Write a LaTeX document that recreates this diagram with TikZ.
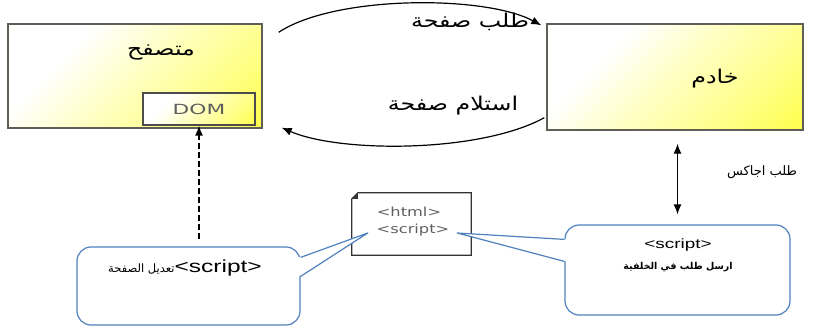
\documentclass[tikz,border=0pt]{standalone}
\usepackage{fontspec}
\setmainfont{Liberation Sans}
\newfontfamily\arabicfont[Script=Arabic]{DejaVu Sans}
\newfontfamily\arabicwide[Script=Arabic,FakeStretch=1.25]{DejaVu Sans}
\newfontfamily\latinwide[FakeStretch=1.3]{DejaVu Sans}
\newfontfamily\domfont[FakeStretch=1.55]{DejaVu Sans}
\newfontfamily\latinstretch[FakeStretch=1.4]{Liberation Sans}
\TeXXeTstate=1
\usetikzlibrary{arrows.meta,calc}
\definecolor{boxedge}{RGB}{95,95,85}
\definecolor{boxyellow}{RGB}{255,255,80}
\definecolor{callblue}{RGB}{79,129,189}
\definecolor{domgray}{RGB}{95,95,95}
\pgfdeclareverticalshading{panelshade}{100bp}{color(0bp)=(boxyellow); color(16bp)=(boxyellow);
  color(30bp)=(boxyellow!70!white); color(50bp)=(boxyellow!35!white); color(68bp)=(white); color(100bp)=(white)}
\tikzset{
  panel/.style={draw=boxedge, line width=1.4pt, inner sep=0pt,
    shading=panelshade, shading angle=45},
  artxt/.style={font=\arabicwide\fontsize{19}{22}\selectfont, inner sep=0pt},
  conn/.style={line width=1.2pt, -{Latex[length=10pt,width=8pt]}},
  callbox/.style={draw=callblue, line width=1.2pt, rounded corners=14pt, fill=white, inner sep=0pt},
  callptr/.style={draw=callblue, line width=1.2pt, line join=round},
}
\begin{document}
\begin{tikzpicture}[x=1pt,y=-1pt]
\useasboundingbox (0,0) rectangle (822,329);
% main boxes
\node[panel, minimum width=254pt, minimum height=104pt] (browser) at (135,76) {};
\node[panel, minimum width=256pt, minimum height=106pt] (server) at (675,77) {};
\node[artxt] (browserlbl) at (161,52) {\beginR متصفح\endR};
\node[artxt] (serverlbl) at (715,79) {\beginR خادم\endR};
\node[panel, line width=1.1pt, draw=black!70, minimum width=112pt, minimum height=32pt,
  font=\domfont\fontsize{14}{16}\selectfont, text=domgray] (dom) at (199,109) {DOM};
% request / response arcs
\coordinate (reqS) at ($(browser.north east)+(16,9)$);
\coordinate (reqE) at ($(server.north west)+(-5,2)$);
\draw[conn] (reqS) .. controls (335,-5) and (485,-5) .. (reqE);
\node[artxt] (reqlbl) at (470,22) {\beginR طلب صفحة\endR};
\coordinate (resS) at ($(server.south west)+(-2,-13)$);
\coordinate (resE) at ($(browser.south east)+(19,-1)$);
\draw[conn] (resS) .. controls (480,153) and (340,153) .. (resE);
\node[artxt] (reslbl) at (453,106) {\beginR استلام صفحة\endR};
% document
\node[minimum width=119pt, minimum height=62pt, inner sep=0pt] (doc) at (411.5,224) {};
\draw[line width=1.2pt, black!80] ($(doc.north west)+(6,0)$) -- (doc.north east) -- (doc.south east)
  -- (doc.south west) -- ($(doc.north west)+(0,6)$) -- cycle;
\fill[black!80] ($(doc.north west)+(6,0)$) -- ($(doc.north west)+(0,6)$) -- ($(doc.north west)+(6,6)$) -- cycle;
\node[font=\latinwide\fontsize{12.5}{14}\selectfont, text=domgray, inner sep=0pt] (html) at (409,212) {<html>};
\node[font=\latinwide\fontsize{12.5}{14}\selectfont, text=domgray, inner sep=0pt] (script) at (413,230) {<script>};
% callouts
\node[callbox, minimum width=223pt, minimum height=78pt] (callL) at (188.5,286) {};
\node[callbox, minimum width=225pt, minimum height=90pt] (callR) at (677.5,270) {};
\coordinate (tipL) at ($(doc.west)+(16,9)$);
\coordinate (tipR) at ($(doc.east)+(-14,9)$);
\fill[white] ($(callL.north east)+(-2,11)$) -- (tipL) -- ($(callL.north east)+(-2,30)$) -- cycle;
\draw[callptr] ($(callL.north east)+(0,11)$) -- (tipL) -- ($(callL.north east)+(0,30)$);
\fill[white] ($(callR.north west)+(2,15)$) -- (tipR) -- ($(callR.north west)+(2,37)$) -- cycle;
\draw[callptr] ($(callR.north west)+(0,15)$) -- (tipR) -- ($(callR.north west)+(0,37)$);
\node[inner sep=0pt] (callLtxt) at (185,268)
  {{\arabicfont\fontsize{11.5}{14}\selectfont\beginR تعديل الصفحة\endR}{\latinstretch\fontsize{17.5}{19}\selectfont<script>}};
\node[inner sep=0pt, font=\latinstretch\fontsize{13.5}{16}\selectfont] (callRtxt1) at (678,245) {<script>};
\node[inner sep=0pt, font=\arabicfont\bfseries\fontsize{9.5}{11}\selectfont] (callRtxt2) at (678,267) {\beginR ارسل طلب في الخلفية\endR};
% dashed and ajax arrows
\draw[line width=1.5pt, dash pattern=on 6pt off 3pt, -{Latex[length=10pt,width=8pt]}] ($(callL.north -| dom.south)+(0,-7)$) -- (dom.south);
\draw[line width=1.3pt, {Latex[length=10pt,width=8pt]}-{Latex[length=10pt,width=8pt]}]
  ($(server.south -| callR.north)+(0,13)$) -- ($(callR.north)+(0,-10)$);
\node[inner sep=0pt, font=\arabicfont\fontsize{13}{15}\selectfont] (ajax) at (762,172) {\beginR طلب اجاكس\endR};
\end{tikzpicture}
\end{document}
